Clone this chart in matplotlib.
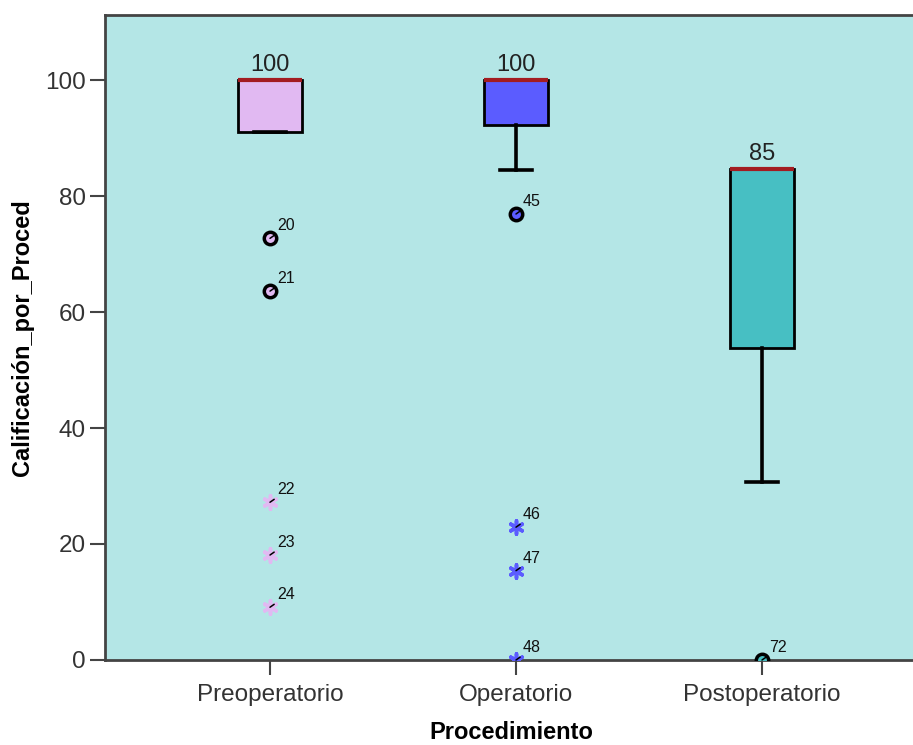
import matplotlib
matplotlib.use("Agg")
import matplotlib.pyplot as plt

# Categories and box summary values
categories = ["Preoperatorio", "Operatorio", "Postoperatorio"]
q1_vals = [91.0, 92.2, 53.8]
median_vals = [100.0, 100.0, 84.6]
q3_vals = [100.0, 100.0, 84.6]
whislo_vals = [91.0, 84.5, 30.7]
whishi_vals = [100.0, 100.0, 84.6]
box_colors = ["#E1B9F2", "#5B5CFF", "#47BFC3"]

# Outliers (circles) and extreme values (asterisks): (group index, value, case id)
outliers = [(0, 72.7, "20"), (0, 63.6, "21"), (1, 76.9, "45"), (2, 0.0, "72")]
extremes = [(0, 27.2, "22"), (0, 18.1, "23"), (0, 9.1, "24"),
            (1, 22.9, "46"), (1, 15.4, "47"), (1, 0.0, "48")]

plt.rcParams["font.family"] = ["Liberation Sans", "DejaVu Sans"]

W, H = 913, 745
fig = plt.figure(figsize=(W / 100, H / 100), dpi=100)
ax = fig.add_axes([105 / W, (H - 660) / H, (W - 105 + 5) / W, (660 - 15) / H])
ax.set_facecolor("#B4E6E6")

positions = list(range(len(categories)))
stats = []
for i in positions:
    stats.append(dict(med=median_vals[i], q1=q1_vals[i], q3=q3_vals[i],
                      whislo=whislo_vals[i], whishi=whishi_vals[i], fliers=[]))

bp = ax.bxp(stats, positions=positions, widths=0.264, patch_artist=True,
            showfliers=False,
            boxprops=dict(edgecolor="black", linewidth=2.0),
            whiskerprops=dict(color="black", linewidth=2.6),
            capprops=dict(color="black", linewidth=2.6),
            medianprops=dict(color="#A31C21", linewidth=3.0, solid_capstyle="butt"))
for patch, c in zip(bp["boxes"], box_colors):
    patch.set_facecolor(c)
    patch.set_zorder(2)
for m in bp["medians"]:
    m.set_zorder(3)

# Median value labels above each box
for i in positions:
    ax.annotate(f"{median_vals[i]:.0f}", xy=(i, median_vals[i]), xytext=(0, 3),
                textcoords="offset points", ha="center", va="bottom",
                fontsize=17, color="#222222")

def label_point(x, y, txt):
    ax.annotate(txt, xy=(x, y), xytext=(5, 3.5), textcoords="offset points",
                ha="left", va="bottom", fontsize=11.5, color="#111111",
                arrowprops=dict(arrowstyle="-", color="black", lw=1.1,
                                relpos=(0, 0), shrinkA=0, shrinkB=0),
                zorder=6, annotation_clip=False)

for g, v, lab in outliers:
    ax.scatter([g], [v], s=80, marker="o", facecolor=box_colors[g],
               edgecolor="black", linewidths=2.5, zorder=5, clip_on=True)
    label_point(g, v, lab)

for g, v, lab in extremes:
    ax.scatter([g], [v], s=90, marker=(6, 2, 0), color=box_colors[g],
               linewidths=2.6, zorder=5, clip_on=True)
    label_point(g, v, lab)

ax.set_xlim((105 - 270) / 246, (W + 5 - 270) / 246)
ax.set_ylim(0, (660 - 15) / 5.8)

ax.set_xticks(positions)
ax.set_xticklabels(categories)
ax.set_yticks([0, 20, 40, 60, 80, 100])
ax.tick_params(axis="both", direction="out", length=11, width=1.5,
               color="#444444", labelsize=17.5, labelcolor="#333333")
ax.tick_params(axis="x", pad=6)
ax.tick_params(axis="y", pad=3)

ax.spines["right"].set_visible(False)
for side in ("left", "top", "bottom"):
    ax.spines[side].set_color("#444444")
    ax.spines[side].set_linewidth(2.0)

ax.set_xlabel("Procedimiento", fontsize=17, fontweight="bold", labelpad=11)
ax.set_ylabel("Calificación_por_Proced", fontsize=17, fontweight="bold", labelpad=8)

fig.savefig("out.png", dpi=100)
